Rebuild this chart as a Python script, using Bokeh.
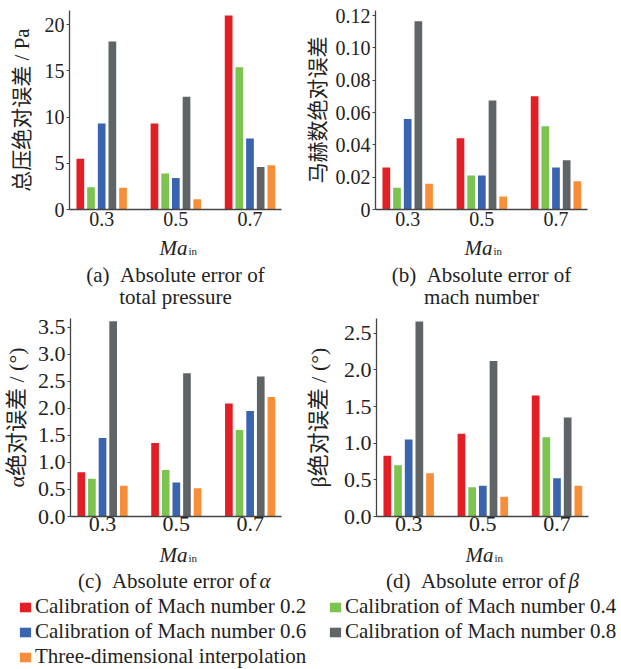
import math
from bokeh.plotting import figure
from bokeh.models import Range1d, FixedTicker, Label, Legend, LegendItem, ColumnDataSource
from bokeh.layouts import column, row
from bokeh.embed import file_html
from bokeh.resources import INLINE

# ---------------- data ----------------
groups = ["0.3", "0.5", "0.7"]
series = [
    "Calibration of Mach number 0.2",
    "Calibration of Mach number 0.4",
    "Calibration of Mach number 0.6",
    "Calibration of Mach number 0.8",
    "Three-dimensional interpolation",
]
colors = ["#E31E24", "#7DC350", "#3A63B0", "#5F6466", "#F78F3A"]

# (a) total pressure absolute error / Pa  (one list per series, over groups)
pressure_err = [
    [5.5, 9.3, 21.0],
    [2.4, 3.9, 15.4],
    [9.3, 3.4, 7.7],
    [18.2, 12.2, 4.6],
    [2.35, 1.1, 4.8],
]
# (b) mach number absolute error
mach_err = [
    [0.026, 0.044, 0.070],
    [0.0135, 0.021, 0.0515],
    [0.056, 0.021, 0.026],
    [0.1165, 0.0675, 0.0305],
    [0.016, 0.008, 0.0175],
]
# (c) alpha absolute error / deg
alpha_err = [
    [0.82, 1.36, 2.09],
    [0.70, 0.86, 1.60],
    [1.45, 0.63, 1.95],
    [3.61, 2.65, 2.59],
    [0.57, 0.52, 2.21],
]
# (d) beta absolute error / deg
beta_err = [
    [0.83, 1.13, 1.65],
    [0.70, 0.40, 1.08],
    [1.05, 0.42, 0.52],
    [2.66, 2.12, 1.35],
    [0.59, 0.27, 0.42],
]

a_ticks = [0, 5, 10, 15, 20]
a_labels = ["0", "5", "10", "15", "20"]
b_ticks = [0, 0.02, 0.04, 0.06, 0.08, 0.10, 0.12]
b_labels = ["0", "0.02", "0.04", "0.06", "0.08", "0.10", "0.12"]
c_ticks = [0, 0.5, 1.0, 1.5, 2.0, 2.5, 3.0, 3.5]
c_labels = ["0.0", "0.5", "1.0", "1.5", "2.0", "2.5", "3.0", "3.5"]
d_ticks = [0, 0.5, 1.0, 1.5, 2.0, 2.5]
d_labels = ["0.0", "0.5", "1.0", "1.5", "2.0", "2.5"]

x_title_main = "Ma"
x_title_sub = "in"

SERIF = "Liberation Serif, Noto Sans CJK SC"
TXT = "#222222"
AX = "#444444"

BAR_W = 0.104
BAR_STEP = 0.144


def style_blank(p):
    p.grid.visible = False
    p.outline_line_color = None
    p.background_fill_color = "white"
    p.border_fill_color = "white"


def panel(values, yticks, ylabels, yend, ylabel, width, height, left, right, top, bottom,
          tick_fs, ylab_fs, ylab_standoff, x_standoff):
    p = figure(width=width, height=height, output_backend="svg", toolbar_location=None,
               x_range=Range1d(-0.434, 2.425), y_range=Range1d(0, yend),
               min_border_left=left, min_border_right=right,
               min_border_top=top, min_border_bottom=bottom)
    style_blank(p)

    for k, (vals, col) in enumerate(zip(values, colors)):
        src = ColumnDataSource(dict(
            x=[i + (k - 2) * BAR_STEP for i in range(len(groups))],
            top=vals))
        p.vbar(x="x", top="top", width=BAR_W, source=src, fill_color=col, line_color=None)

    xa = p.xaxis[0]
    xa.ticker = FixedTicker(ticks=list(range(len(groups))))
    xa.major_label_overrides = {i: g for i, g in enumerate(groups)}
    xa.major_tick_line_color = None
    xa.minor_tick_line_color = None
    xa.major_tick_out = 0
    xa.major_tick_in = 0
    xa.axis_line_color = AX
    xa.axis_line_width = 1.3
    xa.major_label_text_font = SERIF
    xa.major_label_text_font_size = f"{tick_fs}px"
    xa.major_label_text_color = TXT
    xa.major_label_standoff = x_standoff

    ya = p.yaxis[0]
    ya.ticker = FixedTicker(ticks=yticks)
    ya.major_label_overrides = dict(zip(yticks, ylabels))
    ya.minor_tick_line_color = None
    ya.major_tick_out = 3
    ya.major_tick_in = 0
    ya.major_tick_line_color = AX
    ya.axis_line_color = AX
    ya.axis_line_width = 1.3
    ya.major_label_text_font = SERIF
    ya.major_label_text_font_size = f"{tick_fs}px"
    ya.major_label_text_color = TXT
    ya.major_label_standoff = 2
    ya.axis_label = ylabel
    ya.axis_label_text_font = SERIF
    ya.axis_label_text_font_style = "normal"
    ya.axis_label_text_font_size = f"{ylab_fs}px"
    ya.axis_label_text_color = TXT
    ya.axis_label_standoff = ylab_standoff
    return p


def lab(x, y, text, align="left", size=21, style="normal"):
    return Label(x=x, y=y, x_units="screen", y_units="screen", text=text,
                 text_align=align, text_baseline="alphabetic", text_font=SERIF,
                 text_font_style=style, text_font_size=f"{size}px", text_color=TXT)


def strip(width, height, ma_x, ma_y, cap_lines, cap_x, greek=None, greek_x=None):
    s = figure(width=width, height=height, output_backend="svg", toolbar_location=None,
               x_range=Range1d(0, 1), y_range=Range1d(0, 1),
               x_axis_location=None, y_axis_location=None,
               min_border_left=0, min_border_right=0, min_border_top=0, min_border_bottom=0)
    style_blank(s)
    s.add_layout(lab(ma_x, ma_y, x_title_main, align="right", size=21, style="italic"))
    s.add_layout(lab(ma_x + 1, ma_y - 3, x_title_sub, align="left", size=11))
    for j, (txt, y) in enumerate(cap_lines):
        if greek is not None and j == 0:
            s.add_layout(lab(greek_x - 3, y, txt, align="right"))
            s.add_layout(lab(greek_x, y, greek, align="left", style="italic"))
        else:
            s.add_layout(lab(cap_x, y, txt, align="center"))
    return s


# row 1 panels (frames: x 69..281 and 375..587, bottom at page y 209)
pa = panel(pressure_err, a_ticks, a_labels, 21.55, "总压绝对误差 / Pa",
           300, 234, 69, 19, 10, 25, 20, 21, 8, 2)
pb = panel(mach_err, b_ticks, b_labels, 0.1231, "马赫数绝对误差",
           321, 234, 75, 34, 10, 25, 20, 21, 3, 2)
sa = strip(300, 76, 187, 63, [("(a)\u2002Absolute error of", 36), ("total pressure", 14)], 175)
sb = strip(321, 76, 192, 63, [("(b)\u2002Absolute error of", 36), ("mach number", 14)], 181)

# row 2 panels (frames: x 69..281 and 376..588, bottom at page y 516)
pc = panel(alpha_err, c_ticks, c_labels, 3.66, "α绝对误差 / (°)",
           300, 231, 69, 19, 8, 25, 22, 22, 6, 0)
pd_ = panel(beta_err, d_ticks, d_labels, 2.70, "β绝对误差 / (°)",
            321, 231, 76, 33, 8, 25, 22, 22, 10, 0)
sc = strip(300, 53, 187, 40, [("(c)\u2002Absolute error of", 14)], 175, greek="α", greek_x=259)
sd = strip(321, 53, 193, 40, [("(d)\u2002Absolute error of", 14)], 182, greek="β", greek_x=268)

# ---------------- legend strip ----------------
leg = figure(width=621, height=75, output_backend="svg", toolbar_location=None,
             x_range=Range1d(0, 1), y_range=Range1d(0, 1),
             x_axis_location=None, y_axis_location=None,
             min_border_left=0, min_border_right=0, min_border_top=0, min_border_bottom=0)
style_blank(leg)

dummies = []
for col in colors:
    r = leg.vbar(x=[math.nan], top=[math.nan], width=0.1, fill_color=col, line_color=None)
    dummies.append(r)


def make_legend(idx, loc):
    return Legend(items=[LegendItem(label=series[i], renderers=[dummies[i]]) for i in idx],
                  location=loc, orientation="vertical",
                  glyph_width=14, glyph_height=12, label_height=25, label_standoff=3,
                  spacing=0, padding=0, margin=0,
                  label_text_font=SERIF, label_text_font_size="21px", label_text_color=TXT,
                  border_line_color=None, background_fill_alpha=0)


leg.add_layout(make_legend([0, 2, 4], (18, 75 - 75)))
leg.add_layout(make_legend([1, 3], (328, 75 - 50)))

layout = column(row(pa, pb), row(sa, sb), row(pc, pd_), row(sc, sd), leg)

open("out.html", "w").write(file_html(layout, INLINE))
